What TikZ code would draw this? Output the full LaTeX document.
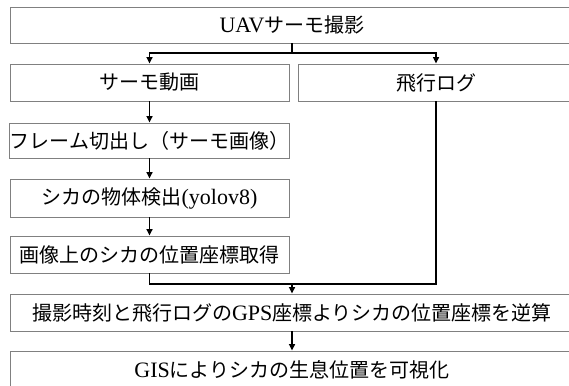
\documentclass[tikz,border=0pt]{standalone}
\usepackage{fontspec}
\setmainfont{Liberation Serif}[Scale=1.1]
\newfontfamily\jpfont{Noto Sans CJK JP}
\usetikzlibrary{arrows.meta}
\newcommand{\J}[1]{{\jpfont #1}}
\begin{document}
\begin{tikzpicture}[x=1pt,y=-1pt,
  box/.style={draw=black!50, line width=0.9pt, rectangle, inner sep=0pt, anchor=center,
    font=\fontsize{20}{24}\selectfont},
  conn/.style={draw=black, line width=1.5pt},
  arr/.style={conn, -{Triangle[length=6.5pt,width=6pt]}}]
\useasboundingbox (0,0) rectangle (569,385);
\begin{scope}
\clip (0,0) rectangle (569,385);
\node[box, minimum width=564pt, minimum height=36pt] (b1) at (292,25) {UAV\J{サーモ撮影}};
\node[box, minimum width=279pt, minimum height=37pt] (b2a) at (149.5,82.5) {\J{サーモ動画}};
\node[box, minimum width=276pt, minimum height=37pt] (b2b) at (436,82.5) {\J{飛行ログ}};
\node[box, minimum width=279pt, minimum height=35pt] (b3) at (149.5,140.5) {\J{フレーム切出し（サーモ画像）}};
\node[box, minimum width=279pt, minimum height=38pt] (b4) at (149.5,198) {\J{シカの物体検出}(yolov8)};
\node[box, minimum width=279pt, minimum height=37pt] (b5) at (149.5,254.5) {\J{画像上のシカの位置座標取得}};
\node[box, minimum width=564pt, minimum height=37pt] (b6) at (292,312.5) {\J{撮影時刻と飛行ログの}GPS\J{座標よりシカの位置座標を逆算}};
\node[box, minimum width=564pt, minimum height=37pt] (b7) at (292,369.5) {GIS\J{によりシカの生息位置を可視化}};
\coordinate (fork) at (292,53);
\coordinate (merge) at (292,284);
\draw[conn] (b1.south) -- (fork);
\draw[arr] (fork) -| (b2a.north);
\draw[arr] (fork) -| (b2b.north);
\draw[arr] (b2a) -- (b3);
\draw[arr] (b3) -- (b4);
\draw[arr] (b4) -- (b5);
\draw[conn] (b5.south) |- (merge);
\draw[conn] (b2b.south) |- (merge);
\draw[arr] (merge) -- (b6.north);
\draw[arr] (b6) -- (b7);
\end{scope}
\end{tikzpicture}
\end{document}
